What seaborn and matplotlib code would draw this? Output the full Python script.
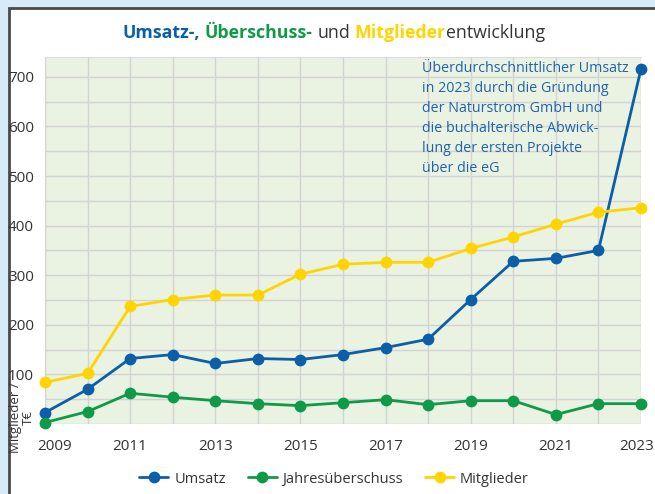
import numpy as np
import pandas as pd
import matplotlib
matplotlib.use("Agg")
import matplotlib.pyplot as plt
import matplotlib.transforms as mtransforms
import seaborn as sns
from matplotlib.patches import Rectangle
from matplotlib.ticker import MultipleLocator

years = list(range(2009, 2024))
umsatz = [23, 70, 132, 140, 122, 132, 130, 140, 154, 171, 251, 328, 334, 350, 716]
ueberschuss = [3, 25, 62, 54, 47, 41, 37, 43, 49, 39, 47, 47, 19, 41, 41]
mitglieder = [84, 102, 237, 251, 260, 260, 302, 322, 326, 326, 354, 377, 403, 427, 436]
series_names = ["Umsatz", "Jahresüberschuss", "Mitglieder"]
x_tick_labels = [str(y) for y in range(2009, 2024, 2)]
y_tick_values = [100, 200, 300, 400, 500, 600, 700]
note = ("Überdurchschnittlicher Umsatz\nin 2023 durch die Gründung\nder Naturstrom GmbH und\n"
        "die buchalterische Abwick-\nlung der ersten Projekte\nüber die eG")

BLUE = "#0b5ea8"
GREEN = "#0f9a48"
YELLOW = "#ffd400"
DARK = "#333333"
FONT = ["Open Sans", "DejaVu Sans"]

df = pd.DataFrame({
    "Jahr": years * 3,
    "Wert": umsatz + ueberschuss + mitglieder,
    "Reihe": [series_names[0]] * len(years) + [series_names[1]] * len(years) + [series_names[2]] * len(years),
})

sns.set_style("white")
plt.rcParams["font.family"] = FONT

W, H = 655, 494
fig = plt.figure(figsize=(W / 100, H / 100), dpi=100)
fig.patch.set_facecolor("#d6eaf8")
panel = Rectangle((8.5 / W, -0.2), 1.5, (H - 8.5) / H + 0.2, transform=fig.transFigure,
                  facecolor="white", edgecolor="#4a4a4a", linewidth=2, zorder=-10)
fig.patches.append(panel)

ax = fig.add_axes([45 / W, 1 - 424 / H, (641 - 45) / W, (424 - 57) / H])
ax.set_facecolor("#eaf2e2")

sns.lineplot(data=df, x="Jahr", y="Wert", hue="Reihe", palette=[BLUE, GREEN, YELLOW],
             marker="o", markersize=8.5, markeredgewidth=0, linewidth=2, ax=ax,
             legend=True, zorder=3)
for ln in ax.lines:
    ln.set_clip_on(False)

ax.set_xlim(2009, 2023)
ax.set_ylim(0, 740)
ax.set_xticks(list(range(2009, 2024, 2)))
ax.set_xticklabels(x_tick_labels)
ax.xaxis.set_minor_locator(MultipleLocator(1))
ax.set_yticks(y_tick_values)
ax.yaxis.set_minor_locator(MultipleLocator(50))
ax.grid(True, which="both", color="#d3d3d3", linewidth=1, zorder=0)
ax.set_axisbelow(True)
ax.tick_params(axis="both", which="both", colors="#c8c8c8", labelcolor=DARK, labelsize=11)
ax.tick_params(axis="x", which="both", length=7, width=1, pad=4)
ax.tick_params(axis="y", which="both", length=5, width=1, pad=3)
for s in ["left", "bottom", "right"]:
    ax.spines[s].set_visible(False)
ax.spines["top"].set_color("#dcdcdc")
ax.set_xlabel("")
ax.set_ylabel("")

# nudge first / last x tick labels like the reference
xlabels = ax.get_xticklabels()
xlabels[0].set_transform(xlabels[0].get_transform() +
                         mtransforms.ScaledTranslation(10 / 100, 0, fig.dpi_scale_trans))
xlabels[-1].set_transform(xlabels[-1].get_transform() +
                          mtransforms.ScaledTranslation(-4 / 100, 0, fig.dpi_scale_trans))

handles, labels = ax.get_legend_handles_labels()
ax.get_legend().remove()
fig.legend(handles, labels, loc="center", bbox_to_anchor=(334 / W, 1 - 479 / H), ncol=3,
           frameon=False, fontsize=10.5, handlelength=2.0, columnspacing=1.5, handletextpad=0.4,
           labelcolor=DARK)

fig.text(22 / W, 1 - 418 / H, "Mitglieder /\nT€", rotation=90, ha="center", va="center",
         multialignment="center", fontsize=9.5, color=DARK, linespacing=0.95)

fig.text(422 / W, 1 - 61 / H, note, ha="left", va="top", fontsize=10.3, color="#1f63ad",
         linespacing=1.45)

# multi-coloured title
parts = [("Umsatz-,", BLUE, "bold"), (" ", DARK, "normal"), ("Überschuss-", GREEN, "bold"),
         (" und ", DARK, "normal"), ("Mitglieder", YELLOW, "bold"), ("entwicklung", DARK, "normal")]
renderer = fig.canvas.get_renderer()
tsize = 12.8
def width_of(s, weight):
    t = fig.text(0, 0, s, fontsize=tsize, fontweight=weight)
    w = t.get_window_extent(renderer).width
    t.remove()
    return w
space_w = width_of("a a", "normal") - width_of("aa", "normal")
widths = []
for s, c, wgt in parts:
    stripped = s.strip()
    n_sp = len(s) - len(stripped)
    widths.append((width_of(stripped, wgt) if stripped else 0) + n_sp * space_w)
total = sum(widths)
x = 334 - total / 2
for (s, c, wgt), w in zip(parts, widths):
    stripped = s.strip()
    lead = (len(s) - len(s.lstrip())) * space_w
    if stripped:
        fig.text((x + lead) / W, 1 - 33 / H, stripped, fontsize=tsize, fontweight=wgt, color=c,
                 ha="left", va="center")
    x += w

fig.savefig("out.png", dpi=100)
